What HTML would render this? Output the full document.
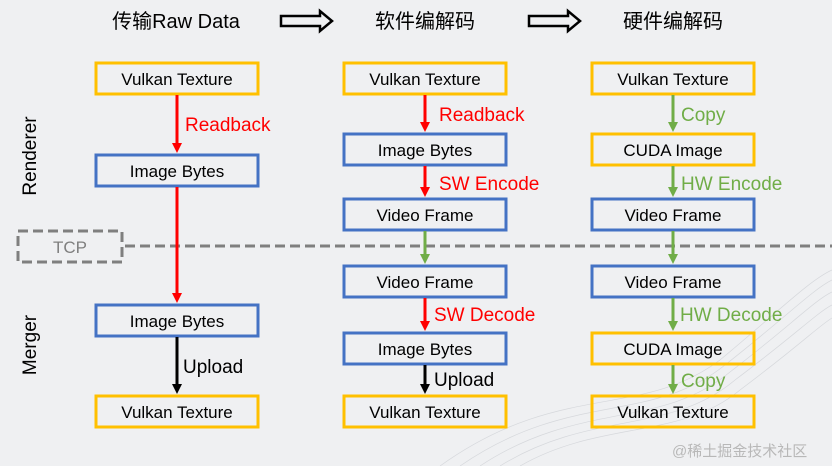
<!DOCTYPE html>
<html><head><meta charset="utf-8"><style>
body{margin:0;background:#eff0f2;}
svg{display:block;font-family:"Liberation Sans","Noto Sans CJK SC",sans-serif;}
</style></head><body>
<svg width="832" height="466" viewBox="0 0 832 466">
<defs>
<marker id="r" markerWidth="10" markerHeight="10" refX="5" refY="5" orient="auto" markerUnits="userSpaceOnUse"><path d="M0,0 L10,5 L0,10z" fill="#f00"/></marker>
<marker id="g" markerWidth="10" markerHeight="10" refX="5" refY="5" orient="auto" markerUnits="userSpaceOnUse"><path d="M0,0 L10,5 L0,10z" fill="#70ad47"/></marker>
<marker id="k" markerWidth="10" markerHeight="10" refX="5" refY="5" orient="auto" markerUnits="userSpaceOnUse"><path d="M0,0 L10,5 L0,10z" fill="#000"/></marker>
</defs>
<rect width="832" height="466" fill="#eff0f2"/>
<g fill="none" stroke="#d6d8dc" stroke-width="0.7">
<path d="M440,466 C560,380 640,420 720,360 C780,310 810,280 832,270"/>
<path d="M460,466 C570,390 650,425 725,365 C785,318 812,290 832,280"/>
<path d="M480,466 C580,400 660,430 730,372 C790,326 815,300 832,292"/>
<path d="M500,466 C590,410 670,435 735,380 C795,335 818,312 832,305"/>
<path d="M520,466 C600,420 680,440 740,390 C800,345 820,325 832,318"/>
</g>
<g font-size="20" fill="#000" text-anchor="middle">
<text x="176" y="28">传输Raw Data</text>
<text x="425" y="28">软件编解码</text>
<text x="673" y="28">硬件编解码</text>
</g>
<path d="M281,16 H320 V11 L332,21 L320,31 V26 H281Z" fill="none" stroke="#000" stroke-width="2.5"/>
<path d="M529,16 H568 V11 L580,21 L568,31 V26 H529Z" fill="none" stroke="#000" stroke-width="2.5"/>
<g font-size="19" fill="#000" text-anchor="middle">
<text transform="translate(36,156) rotate(-90)">Renderer</text>
<text transform="translate(36,345) rotate(-90)">Merger</text>
</g>
<line x1="125" y1="246" x2="832" y2="246" stroke="#7f7f7f" stroke-width="3" stroke-dasharray="10,5"/>
<rect x="18" y="231" width="104" height="31" fill="none" stroke="#7f7f7f" stroke-width="3" stroke-dasharray="10,5"/>
<text x="70" y="253" font-size="17" fill="#7f7f7f" text-anchor="middle">TCP</text>
<g fill="none" stroke-width="3">
<g stroke="#ffc000">
<rect x="96" y="63" width="162" height="31"/><rect x="96" y="396" width="162" height="31"/>
<rect x="344" y="63" width="162" height="31"/><rect x="344" y="396" width="162" height="31"/>
<rect x="592" y="63" width="162" height="31"/><rect x="592" y="134" width="162" height="31"/>
<rect x="592" y="333" width="162" height="31"/><rect x="592" y="396" width="162" height="31"/>
</g>
<g stroke="#4472c4">
<rect x="96" y="155" width="162" height="31"/><rect x="96" y="305" width="162" height="31"/>
<rect x="344" y="134" width="162" height="31"/><rect x="344" y="199" width="162" height="31"/>
<rect x="344" y="266" width="162" height="31"/><rect x="344" y="333" width="162" height="31"/>
<rect x="592" y="199" width="162" height="31"/><rect x="592" y="266" width="162" height="31"/>
</g>
</g>
<g font-size="17" fill="#000" text-anchor="middle">
<text x="177" y="85">Vulkan Texture</text><text x="177" y="177">Image Bytes</text>
<text x="177" y="327">Image Bytes</text><text x="177" y="418">Vulkan Texture</text>
<text x="425" y="85">Vulkan Texture</text><text x="425" y="156">Image Bytes</text>
<text x="425" y="221">Video Frame</text><text x="425" y="288">Video Frame</text>
<text x="425" y="355">Image Bytes</text><text x="425" y="418">Vulkan Texture</text>
<text x="673" y="85">Vulkan Texture</text><text x="673" y="156">CUDA Image</text>
<text x="673" y="221">Video Frame</text><text x="673" y="288">Video Frame</text>
<text x="673" y="355">CUDA Image</text><text x="673" y="418">Vulkan Texture</text>
</g>
<g stroke-width="3">
<line x1="177" y1="95" x2="177" y2="148" stroke="#f00" marker-end="url(#r)"/>
<line x1="177" y1="187" x2="177" y2="298" stroke="#f00" marker-end="url(#r)"/>
<line x1="177" y1="337" x2="177" y2="389" stroke="#000" marker-end="url(#k)"/>
<line x1="425" y1="95" x2="425" y2="127" stroke="#f00" marker-end="url(#r)"/>
<line x1="425" y1="166" x2="425" y2="192" stroke="#f00" marker-end="url(#r)"/>
<line x1="425" y1="231" x2="425" y2="259" stroke="#70ad47" marker-end="url(#g)"/>
<line x1="425" y1="298" x2="425" y2="326" stroke="#f00" marker-end="url(#r)"/>
<line x1="425" y1="365" x2="425" y2="389" stroke="#000" marker-end="url(#k)"/>
<line x1="673" y1="95" x2="673" y2="127" stroke="#70ad47" marker-end="url(#g)"/>
<line x1="673" y1="166" x2="673" y2="192" stroke="#70ad47" marker-end="url(#g)"/>
<line x1="673" y1="231" x2="673" y2="259" stroke="#70ad47" marker-end="url(#g)"/>
<line x1="673" y1="298" x2="673" y2="326" stroke="#70ad47" marker-end="url(#g)"/>
<line x1="673" y1="365" x2="673" y2="389" stroke="#70ad47" marker-end="url(#g)"/>
</g>
<g font-size="19">
<text x="185" y="131" fill="#f00">Readback</text>
<text x="183" y="373" fill="#000">Upload</text>
<text x="439" y="121" fill="#f00">Readback</text>
<text x="439" y="190" fill="#f00">SW Encode</text>
<text x="434" y="321" fill="#f00">SW Decode</text>
<text x="434" y="386" fill="#000">Upload</text>
<text x="681" y="121" fill="#70ad47">Copy</text>
<text x="681" y="190" fill="#70ad47">HW Encode</text>
<text x="680" y="321" fill="#70ad47">HW Decode</text>
<text x="681" y="387" fill="#70ad47">Copy</text>
</g>
<text x="672" y="456" font-size="15" fill="#b8b8b8">@稀土掘金技术社区</text>
</svg>
</body></html>
